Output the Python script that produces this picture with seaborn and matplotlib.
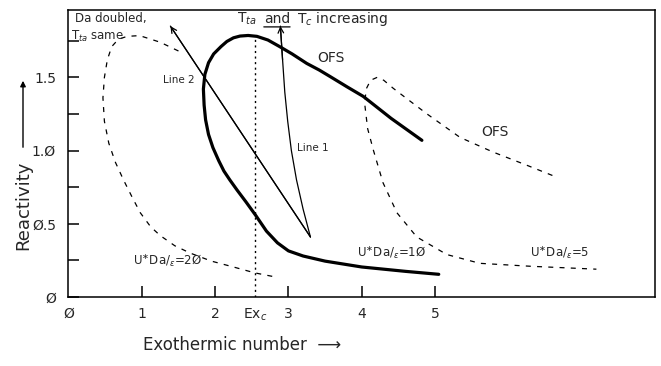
import numpy as np
import pandas as pd
import matplotlib
matplotlib.use("Agg")
import matplotlib.pyplot as plt
import seaborn as sns

# ---- data ----
ofs10_x = [5.05, 4.6, 4.0, 3.5, 3.2, 3.0, 2.85, 2.7, 2.55, 2.42, 2.3, 2.2, 2.12, 2.05, 1.97,
           1.91, 1.87, 1.85, 1.84, 1.86, 1.91, 1.98, 2.08, 2.16, 2.25, 2.34, 2.45, 2.57,
           2.72, 2.88, 3.05, 3.25, 3.42, 3.57, 3.8, 4.02, 4.4, 4.82]
ofs10_y = [0.155, 0.175, 0.205, 0.245, 0.28, 0.315, 0.37, 0.45, 0.56, 0.65, 0.73, 0.80, 0.86,
           0.93, 1.02, 1.11, 1.21, 1.31, 1.42, 1.52, 1.60, 1.66, 1.71, 1.745, 1.77, 1.782,
           1.786, 1.78, 1.755, 1.71, 1.66, 1.595, 1.55, 1.505, 1.435, 1.37, 1.22, 1.07]

da20_x = [1.50, 1.25, 0.97, 0.80, 0.68, 0.59, 0.53, 0.49, 0.47, 0.49, 0.55, 0.64, 0.75, 0.87,
          0.98, 1.12, 1.25, 1.45, 1.66, 1.95, 2.25, 2.54, 2.84]
da20_y = [1.68, 1.74, 1.785, 1.78, 1.76, 1.71, 1.62, 1.50, 1.36, 1.20, 1.05, 0.92, 0.80, 0.68,
          0.575, 0.48, 0.42, 0.35, 0.30, 0.245, 0.205, 0.165, 0.135]

da5_x = [6.6, 6.25, 5.79, 5.34, 4.89, 4.6, 4.43, 4.3, 4.21, 4.12, 4.06, 4.04, 4.08, 4.16,
         4.29, 4.48, 4.75, 5.16, 5.61, 6.30, 7.2]
da5_y = [0.83, 0.90, 0.99, 1.09, 1.25, 1.36, 1.425, 1.48, 1.50, 1.48, 1.42, 1.32, 1.15, 1.00,
         0.78, 0.575, 0.41, 0.29, 0.23, 0.21, 0.19]

line1_x = [3.30, 3.20, 3.11, 3.04, 2.99, 2.95, 2.92, 2.89]
line1_y = [0.41, 0.60, 0.80, 1.00, 1.20, 1.40, 1.62, 1.85]

line2_x = [3.30, 1.39]
line2_y = [0.41, 1.85]

exc_x = 2.54
exc_top = 1.78

xtick_vals = [0, 1, 2, exc_x, 3, 4, 5]
xtick_labels = ["Ø", "1", "2", r"Ex$_c$", "3", "4", "5"]
ytick_vals = [0, 0.5, 1.0, 1.5]
ytick_labels = ["Ø", "Ø.5", "1.Ø", "1.5"]
yminor_vals = [0.25, 0.75, 1.25, 1.75]

# ---- style ----
sns.set_theme(style="ticks")
plt.rcParams["font.family"] = ["DejaVu Sans"]

fig, ax = plt.subplots(figsize=(6.61, 3.66), dpi=100)
fig.subplots_adjust(left=0.1036, right=0.991, bottom=0.1885, top=0.9727)

k = dict(sort=False, estimator=None, color="black", ax=ax, legend=False)
sns.lineplot(x=ofs10_x, y=ofs10_y, lw=2.3, **k)
sns.lineplot(x=da20_x, y=da20_y, lw=0.9, linestyle=(0, (4, 5)), **k)
sns.lineplot(x=da5_x, y=da5_y, lw=0.9, linestyle=(0, (4, 5)), **k)
sns.lineplot(x=line1_x, y=line1_y, lw=0.9, **k)
sns.lineplot(x=line2_x, y=line2_y, lw=0.9, **k)

ap = dict(arrowstyle="->", lw=0.9, color="black", shrinkA=0, shrinkB=0, mutation_scale=10)
ax.annotate("", xy=(line1_x[-1], line1_y[-1]), xytext=(line1_x[-2], line1_y[-2]), arrowprops=ap)
ax.annotate("", xy=(line2_x[-1], line2_y[-1]), xytext=(line2_x[-2], line2_y[-2]), arrowprops=ap)

ax.vlines(exc_x, 0, exc_top, colors="black", linestyles=(0, (1.5, 2.5)), lw=1.0)

ax.set_xlim(0, 8.0)
ax.set_ylim(0, 1.96)
ax.set_xticks(xtick_vals)
ax.set_xticklabels(xtick_labels, fontsize=10)
ax.set_yticks(ytick_vals)
ax.set_yticklabels(ytick_labels, fontsize=10)
ax.set_yticks(yminor_vals, minor=True)
ax.tick_params(axis="both", which="both", direction="in", length=8, width=1.1, color="black")
ax.tick_params(axis="x", pad=7)
ax.tick_params(axis="y", pad=9)
ax.xaxis.get_major_ticks()[3].tick1line.set_visible(False)
ax.xaxis.get_major_ticks()[0].tick1line.set_visible(False)
for s in ax.spines.values():
    s.set_color("black")
    s.set_linewidth(1.1)
ax.set_xlabel("")
ax.set_ylabel("")

fs = 8.5
ax.text(0.09, 1.90, "Da doubled,", fontsize=fs, ha="left", va="center")
ax.text(0.03, 1.78, r"T$_{ta}$ same", fontsize=fs, ha="left", va="center")
t1 = ax.text(2.30, 1.90, r"T$_{ta}$", fontsize=10, ha="left", va="center")
t2 = ax.annotate("and", xy=(1, 0.5), xycoords=t1, xytext=(5, 0), textcoords="offset points",
                 fontsize=10, ha="left", va="center")
ax.annotate(r"T$_c$ increasing", xy=(1, 0.5), xycoords=t2, xytext=(5, 0), textcoords="offset points",
            fontsize=10, ha="left", va="center")
ax.annotate("", xy=(1, -0.08), xycoords=t2, xytext=(0, -0.08), textcoords=t2,
            arrowprops=dict(arrowstyle="-", lw=0.9, color="black", shrinkA=0, shrinkB=0))
ax.text(1.72, 1.48, "Line 2", fontsize=7.5, ha="right", va="center")
ax.text(3.12, 1.02, "Line 1", fontsize=7.5, ha="left", va="center")
ax.text(3.58, 1.63, "OFS", fontsize=10, ha="center", va="center")
ax.text(5.82, 1.125, "OFS", fontsize=10, ha="center", va="center")
ax.text(0.88, 0.25, r"U$^{\ast}$Da/$_{\epsilon}$=2Ø", fontsize=8.5, ha="left", va="center")
ax.text(3.93, 0.30, r"U$^{\ast}$Da/$_{\epsilon}$=1Ø", fontsize=8.5, ha="left", va="center")
ax.text(6.30, 0.30, r"U$^{\ast}$Da/$_{\epsilon}$=5", fontsize=8.5, ha="left", va="center")

fig.text(143 / 661, 1 - 345 / 366, "Exothermic number  ⟶", fontsize=12, ha="left", va="center")
fig.text(23 / 661, 1 - 205 / 366, "Reactivity", fontsize=13, rotation=90, ha="center", va="center")
fig.add_artist(matplotlib.patches.FancyArrowPatch(
    (23 / 661, 1 - 150 / 366), (23 / 661, 1 - 78 / 366), transform=fig.transFigure,
    arrowstyle="-|>", mutation_scale=8, lw=1.0, color="black"))

fig.savefig("out.png", dpi=100)
